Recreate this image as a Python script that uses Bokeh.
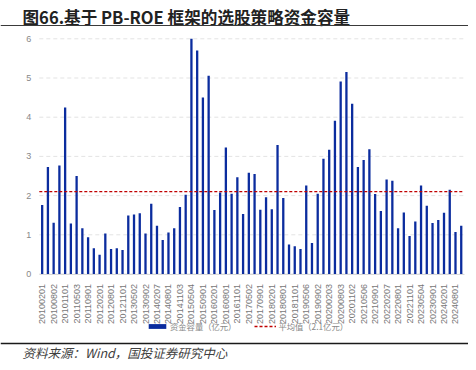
import math
from bokeh.plotting import figure
from bokeh.models import (Legend, LegendItem, FixedTicker, Range1d, Label,
                          LinearAxis, BoxAnnotation)
from bokeh.embed import file_html
from bokeh.resources import INLINE

# ---- data ----
dates = [
    "20100201", "20100504", "20100802", "20100901", "20101101",
    "20110201", "20110503", "20110801", "20110901", "20111101",
    "20120201", "20120502", "20120801", "20120903", "20121101",
    "20130201", "20130502", "20130801", "20130902", "20131101",
    "20140207", "20140505", "20140801", "20140901", "20141103",
    "20150202", "20150504", "20150803", "20150901", "20151102",
    "20160201", "20160503", "20160801", "20160901", "20161101",
    "20170203", "20170502", "20170801", "20170901", "20171101",
    "20180201", "20180502", "20180801", "20180903", "20181101",
    "20190201", "20190506", "20190801", "20190902", "20191101",
    "20200203", "20200506", "20200803", "20200901", "20201102",
    "20210201", "20210506", "20210802", "20210901", "20211101",
    "20220207", "20220505", "20220801", "20220901", "20221101",
    "20230201", "20230504", "20230801", "20230901", "20231101",
    "20240201", "20240506", "20240801", "20240902",
]
capacity = [
    1.76, 2.73, 1.31, 2.77, 4.25, 1.29, 2.50, 1.17, 0.94, 0.66,
    0.49, 1.03, 0.64, 0.66, 0.61, 1.49, 1.52, 1.55, 1.03, 1.79,
    1.23, 0.87, 1.06, 1.17, 1.71, 2.02, 6.00, 5.70, 4.50, 5.06,
    1.63, 2.08, 3.23, 2.05, 2.47, 1.53, 2.58, 2.55, 1.64, 1.96,
    1.65, 3.29, 1.94, 0.75, 0.71, 0.64, 2.26, 0.79, 2.05, 2.94,
    3.17, 3.91, 4.91, 5.15, 4.34, 2.73, 2.91, 3.18, 2.04, 1.61,
    2.41, 2.38, 1.17, 1.57, 0.97, 1.34, 2.26, 1.74, 1.30, 1.38,
    1.56, 2.15, 1.07, 1.23,
]
avg_value = 2.1
y_ticks = [0, 1, 2, 3, 4, 5, 6]
title_text = "图66.基于 PB-ROE 框架的选股策略资金容量"
source_text = "资料来源：Wind，国投证券研究中心"
series_label = "资金容量（亿元）"
avg_label = f"平均值（{avg_value}亿元）"

BLUE = "#0b2c9e"
RED = "#c00000"
CJK = "Noto Sans CJK SC"

# ---- layout constants (pixels) ----
W, H = 468, 362
PLOT_L, PLOT_R = 38.8, 463.6     # bar area left/right
ZERO_Y, UNIT = 273.5, 39.2       # pixel row of y=0, pixels per unit
RULE_TOP_Y, RULE_BOT_Y = 25.0, 343.0

n = len(capacity)
xs = list(range(n))
label_idx = list(range(0, n, 2))
step = (PLOT_R - PLOT_L) / n
x0 = -0.5 - PLOT_L / step
x1 = (n - 0.5) + (W - PLOT_R) / step
y0 = -(H - ZERO_Y) / UNIT
y1 = ZERO_Y / UNIT


def py(page_y):
    """pixel row -> data y"""
    return (ZERO_Y - page_y) / UNIT


p = figure(width=W, height=H, output_backend="svg", toolbar_location=None,
           x_range=Range1d(x0, x1), y_range=Range1d(y0, y1),
           x_axis_location=None, y_axis_location=None,
           min_border=0, min_border_left=0, min_border_right=0,
           min_border_top=0, min_border_bottom=0)
p.outline_line_color = None
p.background_fill_color = "white"
p.border_fill_color = "white"
p.grid.visible = False

# dashed horizontal grid lines across the bar area
p.segment(x0=[-0.5] * len(y_ticks), x1=[n - 0.5] * len(y_ticks),
          y0=y_ticks, y1=y_ticks, line_color="#e3e3e3", line_width=1,
          line_dash="4 3")

r_bar = p.vbar(x=xs, top=capacity, width=0.4, fill_color=BLUE, line_color=None)
r_avg = p.line(x=[-0.5, n - 0.5], y=[avg_value, avg_value], line_color=RED,
               line_width=1.3, line_dash="3 2")

xa = LinearAxis(fixed_location=0, bounds=(-0.5, n - 0.5))
xa.ticker = FixedTicker(ticks=label_idx)
xa.major_label_overrides = {i: dates[i] for i in label_idx}
xa.major_label_orientation = math.pi / 2
xa.major_tick_line_color = None
xa.minor_tick_line_color = None
xa.axis_line_color = "#d9d9d9"
xa.major_label_text_font = "Liberation Sans"
xa.major_label_text_font_size = "9px"
xa.major_label_text_color = "#777777"
xa.major_label_standoff = 4
p.add_layout(xa, "below")

ya = LinearAxis(fixed_location=-0.5, bounds=(0, 6))
ya.ticker = FixedTicker(ticks=y_ticks)
ya.axis_line_color = None
ya.major_tick_line_color = None
ya.minor_tick_line_color = None
ya.major_label_text_font = "Liberation Sans"
ya.major_label_text_font_size = "9px"
ya.major_label_text_color = "#888888"
ya.major_label_standoff = 2
p.add_layout(ya, "left")

# title and source (screen units; y measured from bottom)
p.add_layout(Label(x=22, y=H - 16, x_units="screen", y_units="screen",
                   text=title_text, text_font=CJK, text_font_size="16.6px",
                   text_font_style="bold", text_color="#222222",
                   text_baseline="middle", text_align="left",
                   background_fill_color=None, border_line_color=None,
                   padding=0))
p.add_layout(Label(x=22, y=H - 352, x_units="screen", y_units="screen",
                   text=source_text, text_font=CJK, text_font_size="12.5px",
                   text_font_style="italic", text_color="#404040",
                   text_baseline="middle", text_align="left",
                   background_fill_color=None, border_line_color=None,
                   padding=0))

legend = Legend(items=[LegendItem(label=series_label, renderers=[r_bar]),
                       LegendItem(label=avg_label, renderers=[r_avg])],
                orientation="horizontal", location=(146, H - 332),
                glyph_width=22, glyph_height=6, label_standoff=2, spacing=18,
                padding=0, margin=0, border_line_color=None,
                background_fill_alpha=0,
                label_text_font=CJK, label_text_font_size="8.3px",
                label_text_color="#888888")
p.add_layout(legend, "center")

# rule lines under the title and above the source, drawn last
p.add_layout(BoxAnnotation(left=x0, right=x1,
                           bottom=py(RULE_TOP_Y + 0.6), top=py(RULE_TOP_Y - 0.6),
                           fill_color="#3a3a3a", fill_alpha=1.0,
                           line_color=None))
p.add_layout(BoxAnnotation(left=x0, right=x1,
                           bottom=py(RULE_BOT_Y + 0.8), top=py(RULE_BOT_Y - 0.8),
                           fill_color="#1a1a1a", fill_alpha=1.0,
                           line_color=None))

open("out.html", "w").write(file_html(p, INLINE))
